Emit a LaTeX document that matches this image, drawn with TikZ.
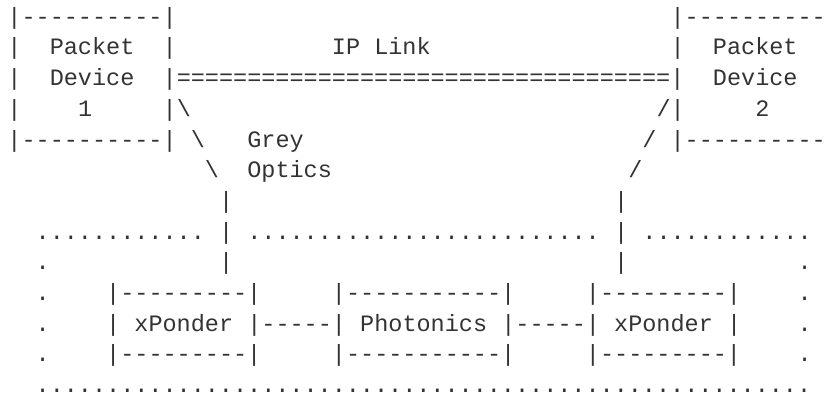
\documentclass[tikz,border=0pt]{standalone}
\usepackage{fontspec}
\setmonofont{Liberation Mono}
\ExplSyntaxOn
\NewDocumentCommand\rpt{mm}{\prg_replicate:nn{#1}{#2}}
\ExplSyntaxOff
\definecolor{ink}{HTML}{333333}
% one character cell is 14.11 px wide, one text line is 30.67 px high
\newcommand\cellx[1]{7.45+14.11*#1}
\newcommand\celly[1]{55+(#1-2)*30.67}
\newcommand\charcell[4]{\node[ascii] (#1) at ({\cellx{#2}},{\celly{#3}}) {#4};}
\begin{document}
\begin{tikzpicture}[x=0.5pt,y=-0.5pt,
  ascii/.style={anchor=base west,inner sep=0pt,outer sep=0pt,text=ink,
    font=\ttfamily\fontsize{11.75pt}{14pt}\selectfont}]
\useasboundingbox (0,0) rectangle (828,395);
% packet device 1
\charcell{pdA1}{0}{1}{|\rpt{10}{-}|}
\charcell{pdA2}{0}{2}{|}
\charcell{pdAtxt1}{3}{2}{Packet}
\charcell{pdA3}{0}{3}{|}
\charcell{pdAtxt2}{3}{3}{Device}
\charcell{pdA4}{0}{4}{|}
\charcell{pdAtxt3}{5}{4}{1}
\charcell{pdA5}{0}{5}{|\rpt{10}{-}|}
\charcell{pdA2r}{11}{2}{|}
% IP link
\charcell{iplabel}{23}{2}{IP Link}
\charcell{iplink}{11}{3}{|\rpt{35}{=}|}
% packet device 2
\charcell{pdB1}{47}{1}{|\rpt{10}{-}}
\charcell{pdB2}{47}{2}{|}
\charcell{pdBtxt1}{50}{2}{Packet}
\charcell{pdBtxt2}{50}{3}{Device}
\charcell{pdBtxt3}{53}{4}{2}
\charcell{pdB5}{47}{5}{|\rpt{10}{-}}
% grey optics
\charcell{goA1}{11}{4}{|\textbackslash}
\charcell{goA2}{13}{5}{\textbackslash}
\charcell{goA3}{14}{6}{\textbackslash}
\charcell{goA4}{15}{7}{|}
\charcell{goB1}{46}{4}{/|}
\charcell{goB2}{45}{5}{/}
\charcell{goB3}{44}{6}{/}
\charcell{goB4}{43}{7}{|}
\charcell{golabel1}{17}{5}{Grey}
\charcell{golabel2}{17}{6}{Optics}
% optical domain (dotted frame)
\charcell{odTopA}{2}{8}{\rpt{12}{.}}
\charcell{odTopB}{17}{8}{\rpt{25}{.}}
\charcell{odTopC}{45}{8}{\rpt{12}{.}}
\charcell{goA5}{15}{8}{|}
\charcell{goB5}{43}{8}{|}
\charcell{goA6}{15}{9}{|}
\charcell{goB6}{43}{9}{|}
\charcell{odL9}{2}{9}{.}
\charcell{odR9}{56}{9}{.}
\charcell{odL10}{2}{10}{.}
\charcell{odR10}{56}{10}{.}
\charcell{odL11}{2}{11}{.}
\charcell{odR11}{56}{11}{.}
\charcell{odL12}{2}{12}{.}
\charcell{odR12}{56}{12}{.}
\charcell{odBottom}{2}{13}{\rpt{55}{.}}
% xPonder -- Photonics -- xPonder
\charcell{xpA1}{7}{10}{|\rpt{9}{-}|}
\charcell{ph1}{23}{10}{|\rpt{11}{-}|}
\charcell{xpB1}{41}{10}{|\rpt{9}{-}|}
\charcell{xpAl}{7}{11}{|}
\charcell{xpAtxt}{9}{11}{xPonder}
\charcell{linkA}{17}{11}{|\rpt{5}{-}|}
\charcell{phtxt}{25}{11}{Photonics}
\charcell{linkB}{35}{11}{|\rpt{5}{-}|}
\charcell{xpBtxt}{43}{11}{xPonder}
\charcell{xpBr}{51}{11}{|}
\charcell{xpA3}{7}{12}{|\rpt{9}{-}|}
\charcell{ph3}{23}{12}{|\rpt{11}{-}|}
\charcell{xpB3}{41}{12}{|\rpt{9}{-}|}
\end{tikzpicture}
\end{document}
